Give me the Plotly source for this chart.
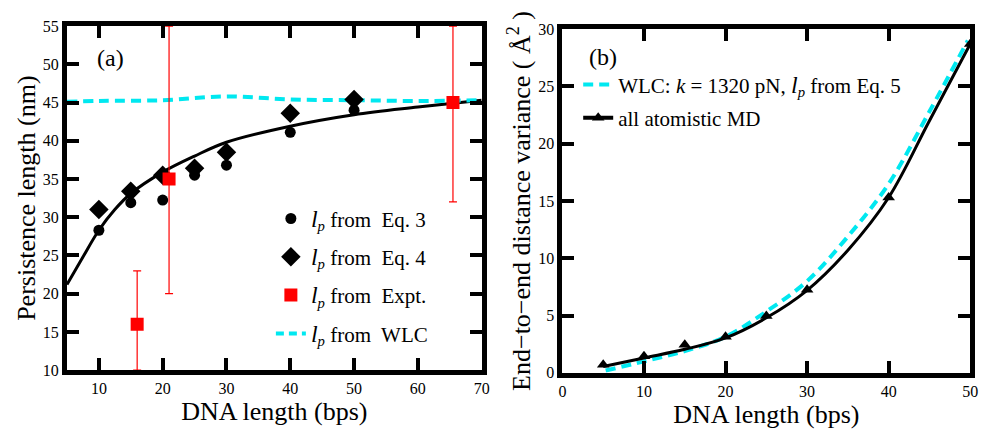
import plotly.graph_objects as go

# ---------------- Panel (a) data ----------------
eq3_x = [10, 15, 20, 25, 30, 40, 50]
eq3_y = [28.3, 31.9, 32.25, 35.5, 36.8, 41.1, 44.0]
eq4_x = [10, 15, 20, 25, 30, 40, 50]
eq4_y = [31.0, 33.4, 35.5, 36.4, 38.5, 43.6, 45.4]
expt_x = [16, 21, 65.5]
expt_y = [16, 35, 45]
expt_err_plus = [7, 20, 10]
expt_err_minus = [6, 15, 13]
fit_x = [5, 7.5, 10, 12.5, 15, 20, 25, 30, 40, 50, 60, 70]
fit_y = [21.2, 24.8, 28.3, 31.0, 33.1, 35.9, 38.0, 39.8, 41.9, 43.4, 44.4, 45.3]
wlc_a_x = [5, 10, 20, 30, 40, 50, 60, 70]
wlc_a_y = [45.1, 45.2, 45.3, 45.8, 45.4, 45.3, 45.2, 45.3]

# ---------------- Panel (b) data ----------------
md_x = [5, 10, 15, 20, 25, 30, 40, 50]
md_y = [0.7, 1.45, 2.45, 3.15, 4.95, 7.25, 15.3, 28.7]
md_line_x = [5, 10, 15, 20, 25, 30, 35, 40, 45, 50]
md_line_y = [0.55, 1.3, 2.05, 3.05, 4.8, 7.2, 10.7, 15.3, 22.0, 28.7]
wlc_b_x = [5.3, 10, 15, 20, 25, 30, 35, 40, 45, 49.7]
wlc_b_y = [0.2, 1.0, 1.9, 3.15, 5.35, 8.0, 11.9, 16.5, 22.8, 29.0]

FONT = "Liberation Serif, Times New Roman, serif"
CYAN = "#00e8f0"
TICK_COLOR = "black"
LP = "<span style='font-size:24px'><i>l</i></span><sub><i>p</i></sub>"

fig = go.Figure()

# Panel (a)
fig.add_trace(go.Scatter(x=fit_x, y=fit_y, mode="lines", line=dict(color="black", width=3, shape="spline"),
                         showlegend=False, xaxis="x", yaxis="y"))
fig.add_trace(go.Scatter(x=wlc_a_x, y=wlc_a_y, mode="lines",
                         line=dict(color=CYAN, width=4, dash="10px,6px", shape="spline"),
                         showlegend=False, xaxis="x", yaxis="y"))
fig.add_trace(go.Scatter(x=eq3_x, y=eq3_y, mode="markers", name=LP + " from&nbsp; Eq. 3",
                         marker=dict(symbol="circle", size=11, color="black"),
                         legend="legend", legendgroup="a1", xaxis="x", yaxis="y"))
fig.add_trace(go.Scatter(x=eq4_x, y=eq4_y, mode="markers", name=LP + " from&nbsp; Eq. 4",
                         marker=dict(symbol="diamond", size=15, color="black"),
                         legend="legend", legendgroup="a2", xaxis="x", yaxis="y"))
fig.add_trace(go.Scatter(x=expt_x, y=expt_y, mode="markers", name=LP + " from&nbsp; Expt.",
                         marker=dict(symbol="square", size=13, color="#ff0000"),
                         error_y=dict(type="data", array=expt_err_plus, arrayminus=expt_err_minus,
                                      color="#ff0000", thickness=1.2, width=4),
                         legend="legend", legendgroup="a3", xaxis="x", yaxis="y"))
fig.add_trace(go.Scatter(x=[None], y=[None], mode="lines", name=LP + " from&nbsp; WLC",
                         line=dict(color=CYAN, width=4, dash="8px,5px"),
                         legend="legend", legendgroup="a4", xaxis="x", yaxis="y"))

# Panel (b)
fig.add_trace(go.Scatter(x=wlc_b_x, y=wlc_b_y, mode="lines",
                         name="WLC: <i>k</i> = 1320 pN, " + LP + " from Eq. 5",
                         line=dict(color=CYAN, width=4, dash="10px,6px", shape="spline"),
                         legend="legend2", legendgroup="b1", xaxis="x2", yaxis="y2"))
fig.add_trace(go.Scatter(x=md_line_x, y=md_line_y, mode="lines",
                         line=dict(color="black", width=3, shape="spline"),
                         showlegend=False, xaxis="x2", yaxis="y2"))
fig.add_trace(go.Scatter(x=md_x, y=md_y, mode="markers",
                         marker=dict(symbol="triangle-up", size=11, color="black"),
                         showlegend=False, xaxis="x2", yaxis="y2"))
fig.add_trace(go.Scatter(x=[None], y=[None], mode="lines+markers", name="all atomistic MD",
                         line=dict(color="black", width=4),
                         marker=dict(symbol="triangle-up", size=11, color="black"),
                         legend="legend2", legendgroup="b2", xaxis="x2", yaxis="y2"))

axis_common = dict(showline=True, linewidth=5, linecolor="black", mirror="allticks",
                   ticks="inside", ticklen=12, tickwidth=4,
                   showgrid=False, zeroline=False, automargin=False, layer="above traces",
                   tickfont=dict(family=FONT, size=16, color="black"))

fig.update_layout(
    width=985, height=434,
    margin=dict(l=0, r=0, t=0, b=0),
    paper_bgcolor="white", plot_bgcolor="white",
    font=dict(family=FONT, color="black"),
    xaxis=dict(domain=[0.068, 0.489], range=[5, 70], dtick=10, tick0=0, tickcolor=TICK_COLOR,
               title=dict(text="DNA length (bps)", font=dict(size=26), standoff=2), anchor="y",
               **axis_common),
    yaxis=dict(domain=[0.147, 0.940], range=[10, 55], dtick=5, tickcolor=TICK_COLOR,
               title=dict(text="Persistence length (nm)", font=dict(size=26), standoff=1), anchor="x",
               **axis_common),
    xaxis2=dict(domain=[0.571, 0.985], range=[0, 50], dtick=10, tickcolor=TICK_COLOR,
                title=dict(text="DNA length (bps)", font=dict(size=26), standoff=2), anchor="y2",
                **axis_common),
    yaxis2=dict(domain=[0.141, 0.933], range=[0, 30], dtick=5, tickcolor=TICK_COLOR,
                title=dict(text="End−to−end distance variance ( Å<sup>2</sup> )", font=dict(size=26), standoff=2),
                anchor="x2", **axis_common),
    legend=dict(x=0.275, y=0.543, xanchor="left", yanchor="top", bgcolor="rgba(0,0,0,0)",
                font=dict(family=FONT, size=21), tracegroupgap=8, itemsizing="trace"),
    legend2=dict(x=0.587, y=0.852, xanchor="left", yanchor="top", bgcolor="rgba(0,0,0,0)",
                 font=dict(family=FONT, size=21), tracegroupgap=3, itemsizing="trace"),
    annotations=[
        dict(text="(a)", x=110 / 985, y=1 - 58 / 434, xref="paper", yref="paper", showarrow=False,
             xanchor="center", yanchor="middle", font=dict(family=FONT, size=24)),
        dict(text="(b)", x=603 / 985, y=1 - 57 / 434, xref="paper", yref="paper", showarrow=False,
             xanchor="center", yanchor="middle", font=dict(family=FONT, size=24)),
    ],
)

fig.write_html("out.html")
